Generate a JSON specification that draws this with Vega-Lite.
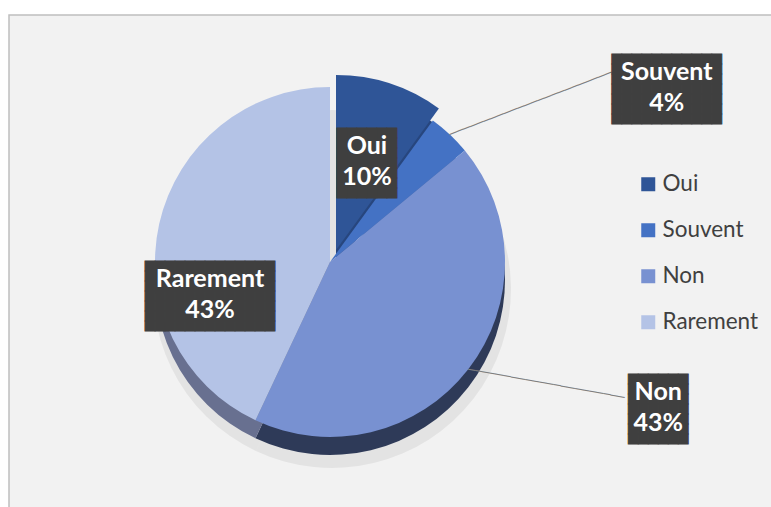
{
  "$schema": "https://vega.github.io/schema/vega-lite/v6.json",
  "width": 780,
  "height": 500,
  "autosize": {"type": "none"},
  "padding": {"left": 9, "top": 15, "right": 0, "bottom": 0},
  "background": "white",
  "view": {"fill": "#F2F2F2", "stroke": "#BFBFBF", "strokeWidth": 1.5},
  "config": {
    "view": {"fill": "#F2F2F2", "stroke": "#BFBFBF", "strokeWidth": 1.5},
    "legend": {
      "labelFont": "Lato", "labelFontSize": 22.5, "labelColor": "#404040",
      "symbolType": "square", "symbolSize": 196, "symbolStrokeWidth": 0,
      "rowPadding": 23, "labelOffset": 3
    }
  },
  "data": {"values": [
    {"cat": "Oui", "value": 10, "ord": 1},
    {"cat": "Souvent", "value": 4, "ord": 2},
    {"cat": "Non", "value": 43, "ord": 3},
    {"cat": "Rarement", "value": 43, "ord": 4}
  ]},
  "transform": [
    {"stack": "value", "groupby": [], "as": ["v0", "v1"], "sort": [{"field": "ord", "order": "ascending"}]},
    {"calculate": "(datum.v0 + datum.v1) / 2", "as": "mid"},
    {"calculate": "datum.cat + '\\n' + datum.value + '%'", "as": "label"}
  ],
  "layer": [
    {
      "mark": {"type": "arc", "radius": 179, "xOffset": -67, "yOffset": 24, "color": "#000000", "opacity": 0.06},
      "encoding": {
        "theta": {"field": "v0", "type": "quantitative", "scale": {"domain": [0, 100]}},
        "theta2": {"field": "v1"}
      }
    },
    {
      "transform": [{"filter": "datum.cat == 'Souvent'"}],
      "mark": {"type": "arc", "radius": 175, "xOffset": -69, "yOffset": 15, "color": "#365C9E"},
      "encoding": {
        "theta": {"field": "v0", "type": "quantitative", "scale": {"domain": [0, 100]}},
        "theta2": {"field": "v1"}
      }
    },
    {
      "transform": [{"filter": "datum.cat == 'Non'"}],
      "mark": {"type": "arc", "radius": 175, "xOffset": -69, "yOffset": 15, "color": "#2E3A58"},
      "encoding": {
        "theta": {"field": "v0", "type": "quantitative", "scale": {"domain": [0, 100]}},
        "theta2": {"field": "v1"}
      }
    },
    {
      "transform": [{"filter": "datum.cat == 'Rarement'"}],
      "mark": {"type": "arc", "radius": 175, "xOffset": -69, "yOffset": 15, "color": "#687090"},
      "encoding": {
        "theta": {"field": "v0", "type": "quantitative", "scale": {"domain": [0, 100]}},
        "theta2": {"field": "v1"}
      }
    },
    {
      "transform": [{"filter": "datum.cat == 'Oui'"}],
      "mark": {"type": "arc", "radius": 175, "xOffset": -63, "yOffset": 3, "color": "#27467E"},
      "encoding": {
        "theta": {"field": "v0", "type": "quantitative", "scale": {"domain": [0, 100]}},
        "theta2": {"field": "v1"}
      }
    },
    {
      "transform": [{"filter": "datum.cat != 'Oui'"}],
      "mark": {"type": "arc", "radius": 175, "xOffset": -69, "yOffset": -3},
      "encoding": {
        "theta": {"field": "v0", "type": "quantitative", "scale": {"domain": [0, 100]}},
        "theta2": {"field": "v1"},
        "color": {"field": "cat", "type": "nominal",
          "scale": {"domain": ["Oui", "Souvent", "Non", "Rarement"], "range": ["#2F5597", "#4472C4", "#7891D1", "#B4C3E6"]},
          "legend": {"title": null, "orient": "none", "legendX": 628, "legendY": 158}}
      }
    },
    {
      "transform": [{"filter": "datum.cat == 'Oui'"}],
      "mark": {"type": "arc", "radius": 175, "xOffset": -63, "yOffset": -15, "color": "#2F5597"},
      "encoding": {
        "theta": {"field": "v0", "type": "quantitative", "scale": {"domain": [0, 100]}},
        "theta2": {"field": "v1"}
      }
    },
    {
      "transform": [{"filter": "datum.cat == 'Souvent'"}],
      "mark": {"type": "text", "text": "────────────────────────", "font": "DejaVu Sans", "fontSize": 12, "align": "left", "baseline": "middle", "angle": -21, "radius": 175, "xOffset": -69, "yOffset": -3, "color": "#7F7F7F"},
      "encoding": {"theta": {"field": "mid", "type": "quantitative", "scale": {"domain": [0, 100]}}}
    },
    {
      "transform": [{"filter": "datum.cat == 'Non'"}],
      "mark": {"type": "text", "text": "──────────────────────", "font": "DejaVu Sans", "fontSize": 12, "align": "left", "baseline": "middle", "angle": 10.25, "radius": 175, "xOffset": -69, "yOffset": -3, "color": "#7F7F7F"},
      "encoding": {"theta": {"field": "mid", "type": "quantitative", "scale": {"domain": [0, 100]}}}
    },
    {
      "transform": [{"filter": "datum.cat == 'Oui'"}],
      "mark": {"type": "text", "text": "██████\n██████\n██████\n██████\n██████\n██████\n██████", "lineBreak": "\n", "font": "Noto Sans CJK SC", "fontSize": 10, "lineHeight": 10, "align": "center", "baseline": "middle", "radius": 100, "xOffset": -69, "yOffset": -3, "dx": 6, "dy": -33, "color": "#3F3F3F", "stroke": "#3F3F3F", "strokeWidth": 1},
      "encoding": {"theta": {"field": "mid", "type": "quantitative", "scale": {"domain": [0, 100]}}}
    },
    {
      "transform": [{"filter": "datum.cat == 'Souvent'"}],
      "mark": {"type": "text", "text": "███████████\n███████████\n███████████\n███████████\n███████████\n███████████\n███████████", "lineBreak": "\n", "font": "Noto Sans CJK SC", "fontSize": 10, "lineHeight": 10, "align": "center", "baseline": "middle", "radius": 175, "xOffset": -69, "yOffset": -3, "dx": 217, "dy": -74, "color": "#3F3F3F", "stroke": "#3F3F3F", "strokeWidth": 1},
      "encoding": {"theta": {"field": "mid", "type": "quantitative", "scale": {"domain": [0, 100]}}}
    },
    {
      "transform": [{"filter": "datum.cat == 'Non'"}],
      "mark": {"type": "text", "text": "██████\n██████\n██████\n██████\n██████\n██████\n██████", "lineBreak": "\n", "font": "Noto Sans CJK SC", "fontSize": 10, "lineHeight": 10, "align": "center", "baseline": "middle", "radius": 175, "xOffset": -69, "yOffset": -3, "dx": 190, "dy": 11, "color": "#3F3F3F", "stroke": "#3F3F3F", "strokeWidth": 1},
      "encoding": {"theta": {"field": "mid", "type": "quantitative", "scale": {"domain": [0, 100]}}}
    },
    {
      "transform": [{"filter": "datum.cat == 'Rarement'"}],
      "mark": {"type": "text", "text": "█████████████\n█████████████\n█████████████\n█████████████\n█████████████\n█████████████\n█████████████", "lineBreak": "\n", "font": "Noto Sans CJK SC", "fontSize": 10, "lineHeight": 10, "align": "center", "baseline": "middle", "radius": 125, "xOffset": -69, "yOffset": -3, "dx": 2, "dy": 32, "color": "#3F3F3F", "stroke": "#3F3F3F", "strokeWidth": 1},
      "encoding": {"theta": {"field": "mid", "type": "quantitative", "scale": {"domain": [0, 100]}}}
    },
    {
      "transform": [{"filter": "datum.cat == 'Oui'"}],
      "mark": {"type": "text", "lineBreak": "\n", "font": "Lato", "fontWeight": "bold", "fontSize": 25, "lineHeight": 31, "align": "center", "baseline": "middle", "radius": 100, "xOffset": -69, "yOffset": -3, "dx": 6, "dy": -21, "color": "white"},
      "encoding": {"theta": {"field": "mid", "type": "quantitative", "scale": {"domain": [0, 100]}}, "text": {"field": "label"}}
    },
    {
      "transform": [{"filter": "datum.cat == 'Souvent'"}],
      "mark": {"type": "text", "lineBreak": "\n", "font": "Lato", "fontWeight": "bold", "fontSize": 25, "lineHeight": 31, "align": "center", "baseline": "middle", "radius": 175, "xOffset": -69, "yOffset": -3, "dx": 217, "dy": -62, "color": "white"},
      "encoding": {"theta": {"field": "mid", "type": "quantitative", "scale": {"domain": [0, 100]}}, "text": {"field": "label"}}
    },
    {
      "transform": [{"filter": "datum.cat == 'Non'"}],
      "mark": {"type": "text", "lineBreak": "\n", "font": "Lato", "fontWeight": "bold", "fontSize": 25, "lineHeight": 31, "align": "center", "baseline": "middle", "radius": 175, "xOffset": -69, "yOffset": -3, "dx": 190, "dy": 23, "color": "white"},
      "encoding": {"theta": {"field": "mid", "type": "quantitative", "scale": {"domain": [0, 100]}}, "text": {"field": "label"}}
    },
    {
      "transform": [{"filter": "datum.cat == 'Rarement'"}],
      "mark": {"type": "text", "lineBreak": "\n", "font": "Lato", "fontWeight": "bold", "fontSize": 25, "lineHeight": 31, "align": "center", "baseline": "middle", "radius": 125, "xOffset": -69, "yOffset": -3, "dx": 2, "dy": 44, "color": "white"},
      "encoding": {"theta": {"field": "mid", "type": "quantitative", "scale": {"domain": [0, 100]}}, "text": {"field": "label"}}
    }
  ]
}
